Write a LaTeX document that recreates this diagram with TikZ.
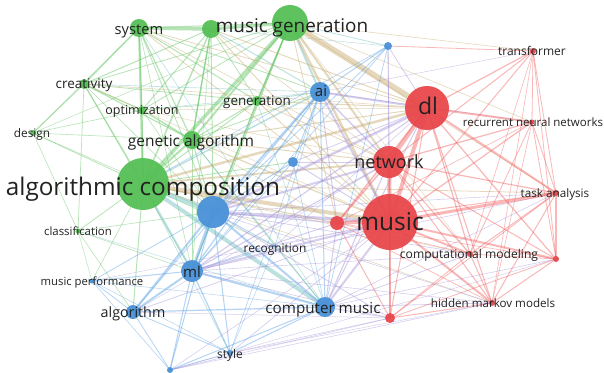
\documentclass[tikz,border=0pt]{standalone}
\usepackage{fontspec}
\setmainfont{Open Sans}
\definecolor{gN}{RGB}{86,192,86}
\definecolor{bN}{RGB}{74,146,216}
\definecolor{rN}{RGB}{232,72,76}
\definecolor{gE}{RGB}{96,196,96}
\definecolor{bE}{RGB}{90,160,230}
\definecolor{rE}{RGB}{242,96,96}
\definecolor{tE}{RGB}{200,170,110}
\definecolor{pE}{RGB}{160,140,215}
\definecolor{cE}{RGB}{110,190,190}
\definecolor{labc}{RGB}{34,34,34}
\tikzset{
  gedge/.style={draw=gE,draw opacity=0.45},
  bedge/.style={draw=bE,draw opacity=0.45},
  redge/.style={draw=rE,draw opacity=0.45},
  tedge/.style={draw=tE,draw opacity=0.45},
  pedge/.style={draw=pE,draw opacity=0.42},
  cedge/.style={draw=cE,draw opacity=0.45},
  dot/.style={circle,inner sep=0pt,draw=none,fill opacity=0.95},
  lab/.style={inner sep=0pt,text=labc,anchor=base}
}
\newcommand{\fs}[1]{\fontsize{#1}{#1}\selectfont}
\begin{document}
\begin{tikzpicture}[x=1pt,y=-1pt]
\useasboundingbox (0,0) rectangle (604,372);
\fill[white] (0,0) rectangle (604,372);
% coordinates of nodes
\coordinate (sys) at (139,28);
\coordinate (mgs) at (211,29);
\coordinate (mg) at (290,23);
\coordinate (cre) at (84,84);
\coordinate (opt) at (142,110);
\coordinate (des) at (33,133);
\coordinate (gen) at (257,101);
\coordinate (ga) at (192,140);
\coordinate (ac) at (143,184);
\coordinate (cla) at (78,231);
\coordinate (ai) at (320,92);
\coordinate (bs1) at (388,46);
\coordinate (bs2) at (293,162);
\coordinate (bb) at (213,212);
\coordinate (rec) at (275,246);
\coordinate (ml) at (192,271);
\coordinate (mp) at (92,281);
\coordinate (alg) at (133,312);
\coordinate (cm) at (325,307);
\coordinate (sty) at (230,353);
\coordinate (bs3) at (170,370);
\coordinate (dl) at (427,108);
\coordinate (net) at (389,162);
\coordinate (mu) at (390,222);
\coordinate (rs) at (337,223);
\coordinate (tra) at (533,51);
\coordinate (rnn) at (532,122);
\coordinate (ta) at (556,193);
\coordinate (cmod) at (470,254);
\coordinate (rd2) at (556,259);
\coordinate (hmm) at (492,303);
\coordinate (rd3) at (390,318);
% green edges
\foreach \a/\b/\w in {sys/mgs/3.5,mgs/mg/3,sys/cre/1.4,sys/opt/1,sys/ga/1.2,sys/ac/2.2,sys/gen/1,sys/ai/0.8,sys/bb/0.8,sys/ml/0.6,
 cre/des/1,cre/opt/1.2,cre/ga/1.2,cre/ac/1.2,cre/mgs/1,cre/mg/0.8,cre/gen/0.8,cre/cla/0.7,cre/bb/0.6,cre/ml/0.5,
 des/ac/0.8,des/ga/0.6,des/cla/0.6,des/mg/0.5,des/opt/0.6,des/bb/0.5,
 opt/ga/1.5,opt/ac/1.2,opt/mg/0.8,opt/mgs/1,opt/bb/0.6,opt/gen/0.6,
 ga/ac/2.2,ga/mg/2,ga/mgs/1.5,ga/gen/1,ga/bb/1,ga/ml/0.8,ga/cm/0.8,ga/ai/0.8,
 gen/mg/1.2,gen/ac/1,gen/bb/0.8,gen/mgs/0.8,gen/ml/0.6,
 mg/ac/3.5,mg/bb/1.2,mg/ml/0.8,mg/gen/1,mgs/ac/1.5,mgs/bb/1,mgs/ga/1,mgs/ml/0.6,
 ac/cla/0.8,ac/mp/0.6,ac/alg/1,ac/bs2/0.8,ac/rec/0.6,cla/ml/0.6,cla/alg/0.6,cla/mp/0.5,cla/bb/0.6,sys/des/0.5,sys/mg/1}
 \draw[gedge,line width=\w pt] (\a) -- (\b);
\foreach \a/\b/\w in {ac/bb/5,ac/ml/2,ac/cm/4,ac/ai/1.5,mg/ai/2,mgs/ai/1,sys/cm/0.6,ga/rec/0.8,gen/ai/1,mg/bs1/0.8,cre/ai/0.6,cla/cm/0.5,ac/sty/0.6,opt/ai/0.5,mgs/bs1/0.5,gen/cm/0.6}
 \draw[cedge,line width=\w pt] (\a) -- (\b);
\foreach \a/\b/\w in {mg/dl/6,mg/net/2,mg/mu/2.5,ac/mu/4,ac/dl/2.5,ac/net/1.8,ac/rs/1.2,ac/hmm/0.6,ac/cmod/0.6,ga/dl/1,ga/net/1,ga/mu/1.2,
 gen/dl/1,gen/mu/1,gen/net/0.8,sys/dl/0.8,sys/net/0.6,sys/mu/0.8,cre/dl/0.6,cre/mu/0.5,mgs/dl/1,mgs/mu/1,mg/tra/0.6,mg/rnn/0.6,mg/rs/0.8,mg/ta/0.6,opt/net/0.5,ac/ta/0.8,
 mgs/net/0.6,ga/rs/0.6,opt/dl/0.5,mg/cmod/0.5}
 \draw[tedge,line width=\w pt] (\a) -- (\b);
% blue edges
\foreach \a/\b/\w in {ai/bb/2,ai/ml/1.2,ai/cm/1,ai/bs1/1,ai/alg/0.8,ai/bs2/1,ai/sty/0.6,ai/rec/0.6,
 bs1/bb/0.8,bs1/ml/0.7,bs1/cm/0.7,bs1/ac/0.6,bs2/bb/1,bs2/ml/0.8,bs2/cm/0.6,
 bb/ml/3,bb/cm/2,bb/alg/2,bb/sty/1,bb/mp/0.8,bb/rec/0.8,bb/bs3/1,
 ml/alg/2,ml/mp/1,ml/sty/1.2,ml/bs3/1,ml/cm/2,ml/rec/0.8,
 alg/mp/0.8,alg/sty/0.8,alg/bs3/0.8,alg/cm/1.2,mp/bs3/0.6,
 cm/sty/1,cm/bs3/1,sty/bs3/0.8,mp/cm/0.5,mp/sty/0.5,rec/cm/0.6,rec/sty/0.5}
 \draw[bedge,line width=\w pt] (\a) -- (\b);
\foreach \a/\b/\w in {ai/dl/2,ai/net/1.5,ai/mu/2,ai/rs/1,bs1/dl/0.8,bs1/net/0.8,bs1/mu/0.8,bs2/mu/1,bs2/dl/0.8,bs2/net/0.8,
 bb/mu/3,bb/dl/2.5,bb/net/2,bb/rs/1.2,bb/hmm/0.6,bb/cmod/0.7,bb/ta/0.6,bb/rd3/0.8,
 ml/mu/2,ml/dl/1.2,ml/net/1.2,ml/rs/1,ml/ta/0.6,ml/cmod/0.6,ml/hmm/0.6,ml/rd3/0.6,alg/mu/0.8,alg/rd3/0.5,alg/net/0.5,
 cm/mu/2,cm/dl/1,cm/net/1.2,cm/rs/1,cm/rd3/1,cm/hmm/0.8,cm/cmod/0.8,cm/ta/0.6,cm/rd2/0.6,
 sty/mu/0.7,sty/rd3/0.6,sty/hmm/0.5,bs3/rd3/0.6,bs3/hmm/0.6,bs3/mu/0.6,rec/mu/0.6,rec/dl/0.6,mp/mu/0.5,bs3/rd2/0.5,ai/tra/0.5,ai/rnn/0.5}
 \draw[pedge,line width=\w pt] (\a) -- (\b);
% red edges
\foreach \a/\b/\w in {dl/net/4,dl/mu/4,dl/tra/1.2,dl/rnn/2,dl/ta/2,dl/cmod/1.2,dl/rd2/1.2,dl/hmm/1,dl/rs/1.5,dl/rd3/1,
 net/mu/4,net/tra/1,net/rnn/1.2,net/ta/1.2,net/cmod/1,net/rd2/1,net/hmm/1,net/rs/1.5,net/rd3/1,
 mu/ta/3,mu/cmod/2,mu/rd2/2,mu/hmm/2,mu/rd3/2,mu/rs/3,mu/tra/1,mu/rnn/1.2,
 tra/rnn/0.8,tra/ta/0.8,tra/rd2/0.8,tra/hmm/0.6,tra/cmod/0.6,tra/bs1/0.8,
 rnn/ta/0.8,rnn/rd2/0.8,rnn/hmm/0.6,rnn/cmod/0.8,
 ta/rd2/1.5,ta/hmm/1,ta/cmod/1,ta/rd3/0.8,ta/rs/1,
 cmod/hmm/1,cmod/rd2/0.8,cmod/rd3/0.8,hmm/rd2/1,hmm/rd3/1,rd3/rs/1,rd3/rd2/0.8,rs/rnn/0.6,rs/hmm/0.7,rs/rd2/0.6,rs/cmod/0.6}
 \draw[redge,line width=\w pt] (\a) -- (\b);
% node circles
\foreach \n/\r in {sys/9,mgs/9,mg/18,cre/5,opt/4,des/3,gen/5,ga/9,ac/26,cla/2.5}
 \node[dot,fill=gN,minimum size=2*\r pt] (\n-c) at (\n) {};
\foreach \n/\r in {ai/10,bs1/4,bs2/5,bb/16,rec/1.5,ml/11,mp/2.5,alg/7,cm/10,sty/3,bs3/3}
 \node[dot,fill=bN,minimum size=2*\r pt] (\n-c) at (\n) {};
\foreach \n/\r in {dl/22,net/16,mu/28,rs/7,tra/3,rnn/2.5,ta/3,cmod/3,rd2/3,hmm/3,rd3/5}
 \node[dot,fill=rN,minimum size=2*\r pt] (\n-c) at (\n) {};
% labels (anchored at baseline)
\node[lab,font=\fs{24.3}] (ac-l) at (143,195) {algorithmic composition};
\node[lab,font=\fs{18.9}] (mg-l) at (292,32) {music generation};
\node[lab,font=\fs{14.7}] (sys-l) at (139,34) {system};
\node[lab,font=\fs{13.5}] (cre-l) at (84,88) {creativity};
\node[lab,font=\fs{12.5}] (opt-l) at (142,114) {optimization};
\node[lab,font=\fs{11.8}] (des-l) at (32,137) {design};
\node[lab,font=\fs{13.4}] (gen-l) at (257,105) {generation};
\node[lab,font=\fs{15.5}] (ga-l) at (191,146) {genetic algorithm};
\node[lab,font=\fs{11.4}] (cla-l) at (78,235) {classification};
\node[lab,font=\fs{15}] (ai-l) at (321,96) {ai};
\node[lab,font=\fs{23}] (dl-l) at (428,114) {dl};
\node[lab,font=\fs{18}] (net-l) at (389,168) {network};
\node[lab,font=\fs{24.5}] (mu-l) at (390,230) {music};
\node[lab,font=\fs{11.5}] (rnn-l) at (533,126) {recurrent neural networks};
\node[lab,font=\fs{12}] (tra-l) at (532,55) {transformer};
\node[lab,font=\fs{11.7}] (ta-l) at (555,197) {task analysis};
\node[lab,font=\fs{12.1}] (cmod-l) at (469,258) {computational modeling};
\node[lab,font=\fs{11.6}] (hmm-l) at (493,307) {hidden markov models};
\node[lab,font=\fs{15.2}] (cm-l) at (323,313) {computer music};
\node[lab,font=\fs{11.9}] (rec-l) at (275,252) {recognition};
\node[lab,font=\fs{15}] (ml-l) at (192,277) {ml};
\node[lab,font=\fs{11.3}] (mp-l) at (92,285) {music performance};
\node[lab,font=\fs{14.3}] (alg-l) at (133,317) {algorithm};
\node[lab,font=\fs{12}] (sty-l) at (230,358) {style};
\end{tikzpicture}
\end{document}
